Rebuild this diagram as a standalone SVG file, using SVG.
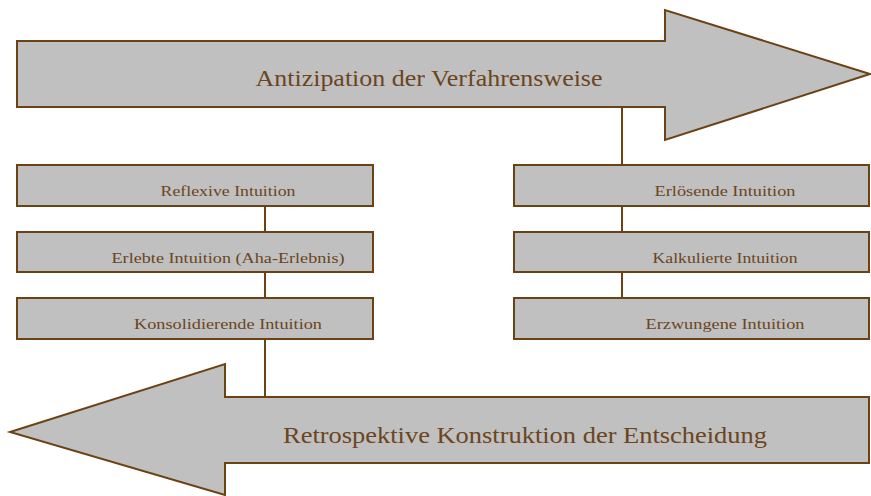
<svg xmlns="http://www.w3.org/2000/svg" width="871" height="496" viewBox="0 0 871 496">
<style>
.shape{fill:#c0c0c0;stroke:#6b4214;stroke-width:2}
.conn{stroke:#6b4214;stroke-width:2;fill:none}
.lbl{fill:#6b4520;text-anchor:middle}
.big{font-size:24px}
.small{font-size:15px}
</style>
<rect width="871" height="496" fill="#ffffff"/>
<g id="connectors">
<line class="conn" x1="622" y1="107" x2="622" y2="165"/>
<line class="conn" x1="622" y1="206" x2="622" y2="232"/>
<line class="conn" x1="622" y1="272" x2="622" y2="298"/>
<line class="conn" x1="265" y1="206" x2="265" y2="232"/>
<line class="conn" x1="265" y1="272" x2="265" y2="298"/>
<line class="conn" x1="265" y1="339" x2="265" y2="397"/>
</g>
<g font-family="'Liberation Serif', 'DejaVu Serif', serif">
<g id="arrow-top">
<polygon class="shape" points="17,41 665,41 665,10 870,74 665,140 665,107 17,107"/>
<text class="lbl big" x="429" y="86" textLength="347" lengthAdjust="spacingAndGlyphs">Antizipation der Verfahrensweise</text>
</g>
<g id="arrow-bottom">
<polygon class="shape" points="869,397 225,397 225,364 10,432 225,495 225,463 869,463"/>
<text class="lbl big" x="525" y="443" textLength="484" lengthAdjust="spacingAndGlyphs">Retrospektive Konstruktion der Entscheidung</text>
</g>
<g id="node-reflexive">
<rect class="shape" x="17" y="165" width="356" height="41"/>
<text class="lbl small" x="228" y="196" textLength="135" lengthAdjust="spacingAndGlyphs">Reflexive Intuition</text>
</g>
<g id="node-erlebte">
<rect class="shape" x="17" y="232" width="356" height="40"/>
<text class="lbl small" x="228" y="263" textLength="233" lengthAdjust="spacingAndGlyphs">Erlebte Intuition (Aha-Erlebnis)</text>
</g>
<g id="node-konsolidierende">
<rect class="shape" x="17" y="298" width="356" height="41"/>
<text class="lbl small" x="228" y="329" textLength="188" lengthAdjust="spacingAndGlyphs">Konsolidierende Intuition</text>
</g>
<g id="node-erloesende">
<rect class="shape" x="514" y="165" width="355" height="41"/>
<text class="lbl small" x="725" y="196" textLength="141" lengthAdjust="spacingAndGlyphs">Erlösende Intuition</text>
</g>
<g id="node-kalkulierte">
<rect class="shape" x="514" y="232" width="355" height="40"/>
<text class="lbl small" x="725" y="263" textLength="145" lengthAdjust="spacingAndGlyphs">Kalkulierte Intuition</text>
</g>
<g id="node-erzwungene">
<rect class="shape" x="514" y="298" width="355" height="41"/>
<text class="lbl small" x="725" y="329" textLength="159" lengthAdjust="spacingAndGlyphs">Erzwungene Intuition</text>
</g>
</g>
</svg>
